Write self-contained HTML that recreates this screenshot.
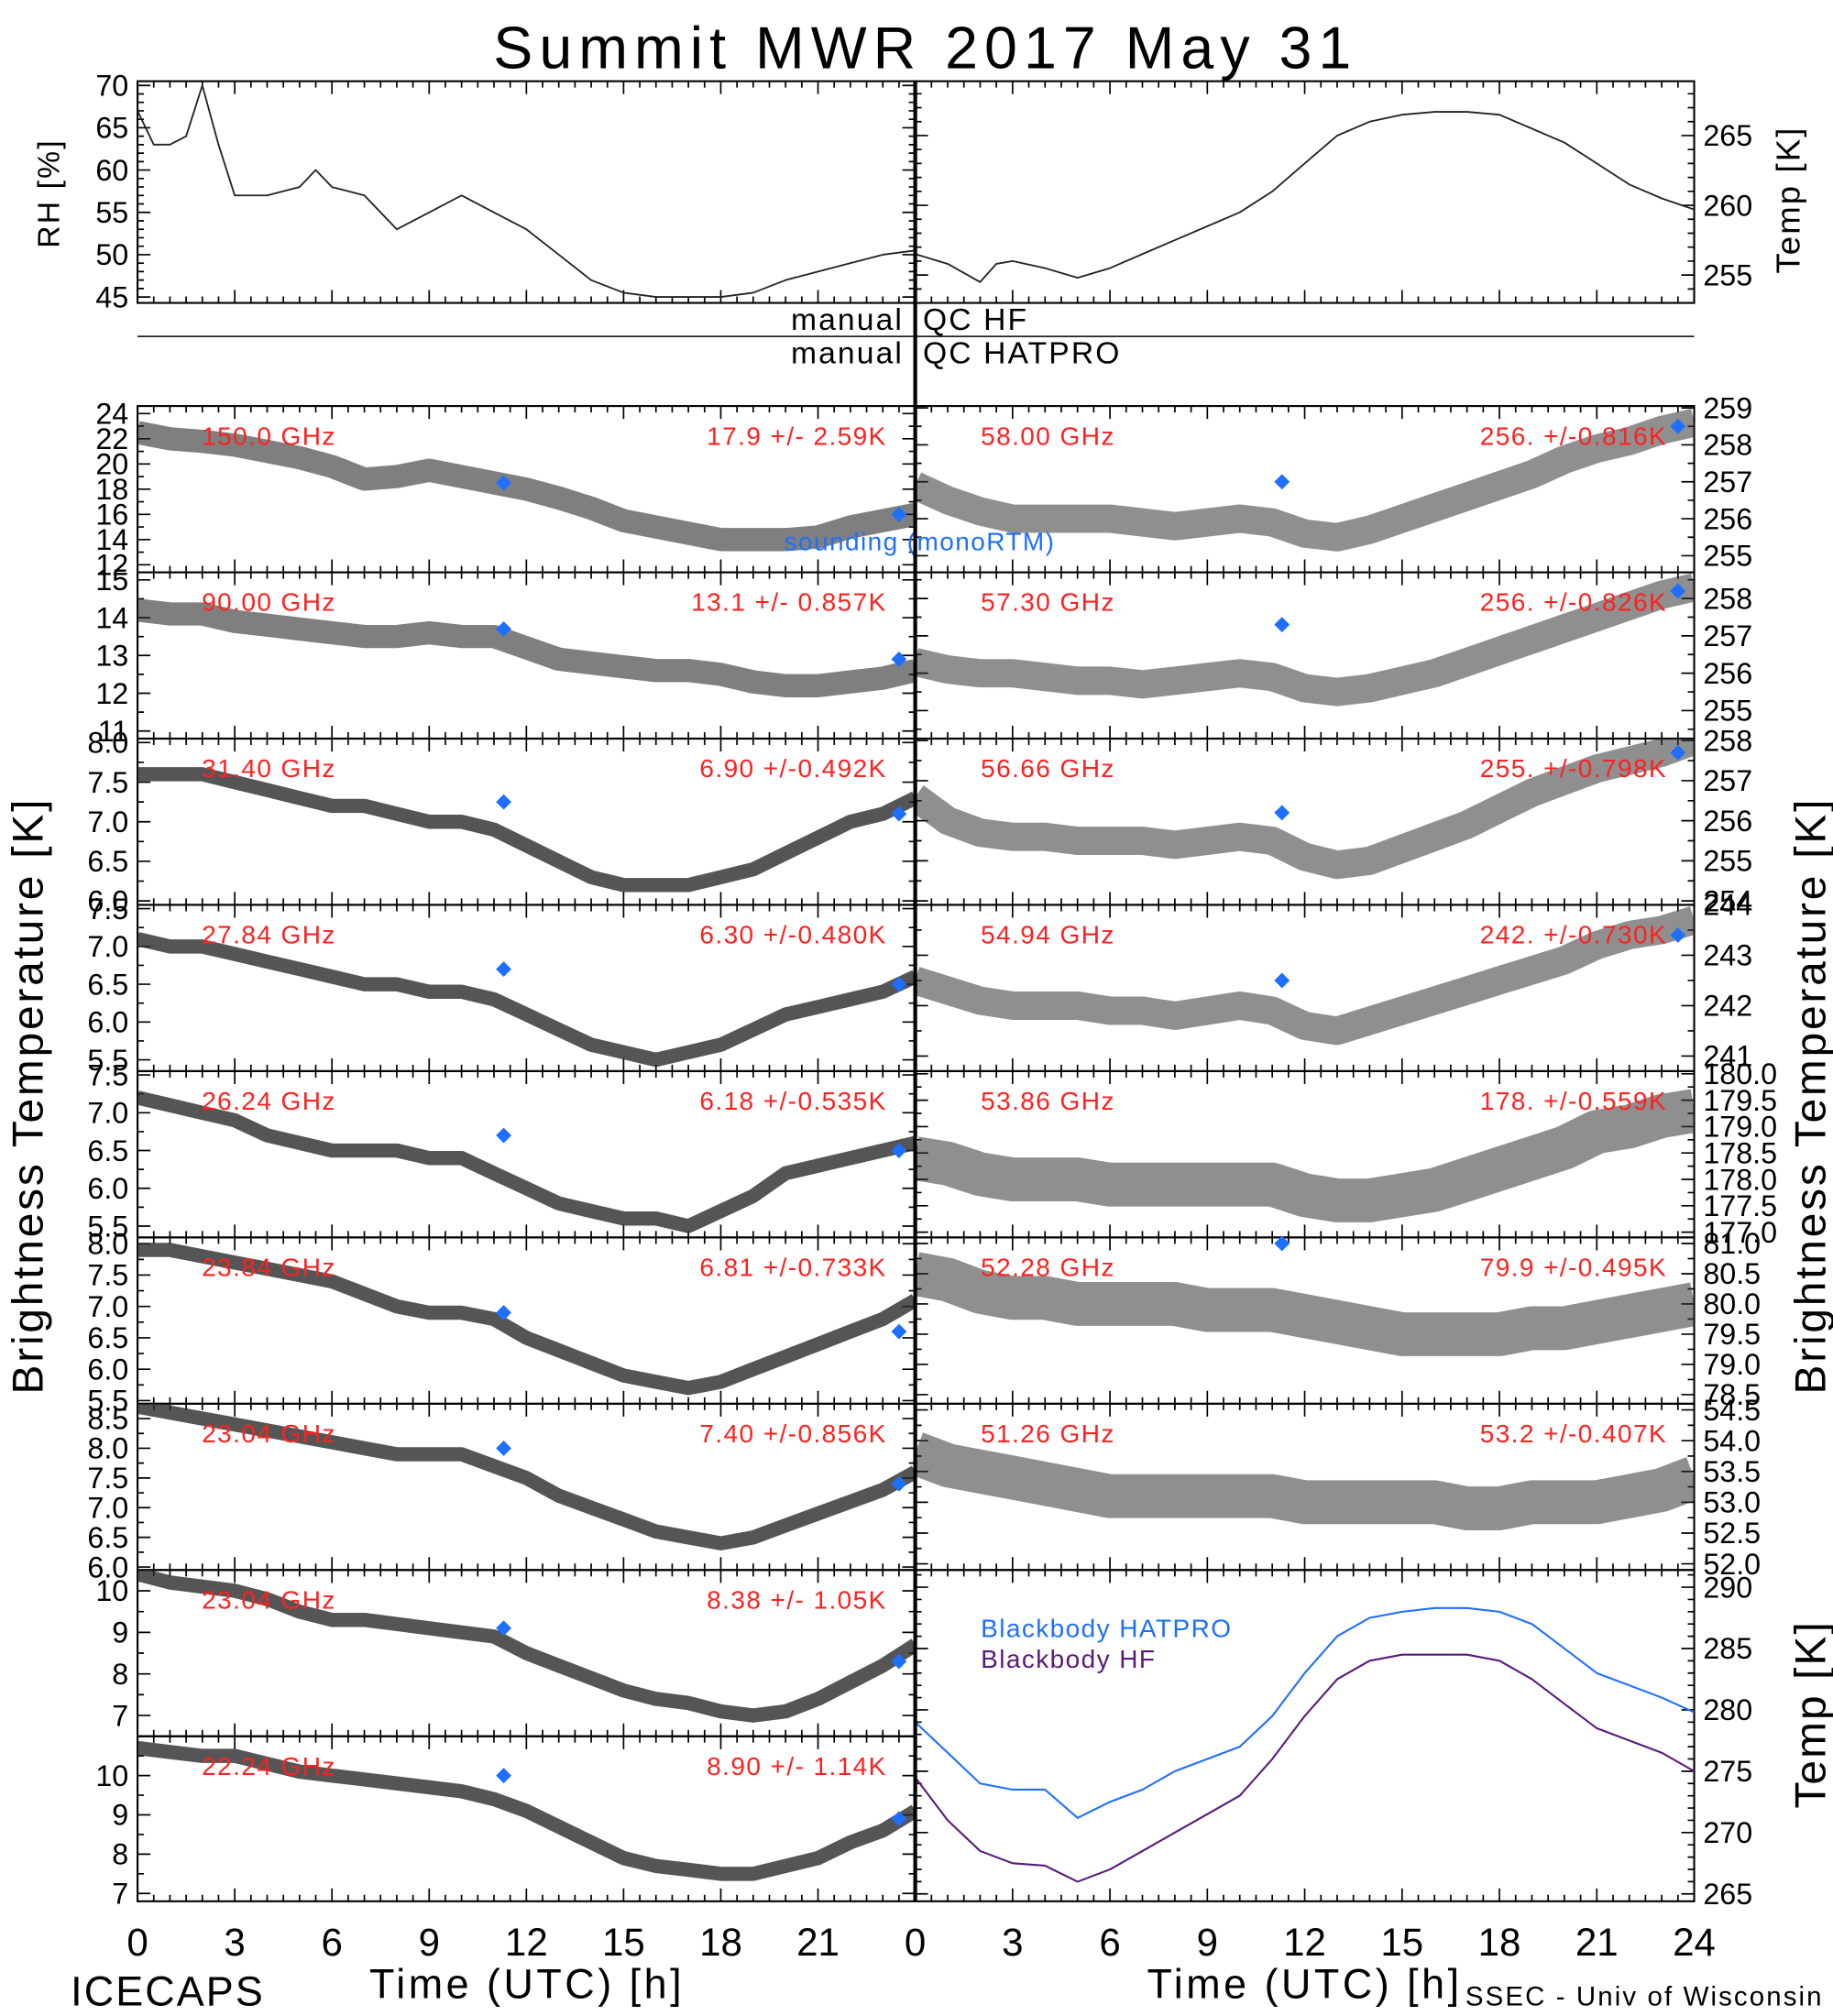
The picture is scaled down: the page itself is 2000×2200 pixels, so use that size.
<!DOCTYPE html>
<html><head><meta charset="utf-8"><style>
html,body{margin:0;padding:0;background:#fff}
svg{display:block}
text{font-family:"Liberation Sans","DejaVu Sans",sans-serif}
</style></head><body>
<svg id="c" width="2000" height="2200" viewBox="0 0 1426 1564" preserveAspectRatio="none" xmlns="http://www.w3.org/2000/svg">
<rect width="1426" height="1564" fill="#fff"/>
<defs id="defs"></defs>
<text x="720" y="53" font-size="46" text-anchor="middle" fill="#000" letter-spacing="5">Summit  MWR  2017  May  31</text>
<g id="g"></g>
</svg>
<script>
// ---------- data ----------
const hours = [0,1,2,3,4,5,6,7,8,9,10,11,12,13,14,15,16,17,18,19,20,21,22,23,24];
const rhHours = [0,0.5,1,1.5,2,2.5,3,4,5,5.5,6,7,7.5,8,9,10,11,12,13,14,15,16,17,18,19,20,21,22,23,24];
const rhValues = [67,63,63,64,70,63,57,57,58,60,58,57,55,53,55,57,55,53,50,47,45.5,45,45,45,45.5,47,48,49,50,50.5];
const tempHours = [0,1,2,2.5,3,4,5,6,7,8,9,10,11,12,13,14,15,16,17,18,19,20,21,22,23,24];
const tempValues = [256.5,255.8,254.5,255.8,256,255.5,254.8,255.5,256.5,257.5,258.5,259.5,261,263,265,266,266.5,266.7,266.7,266.5,265.5,264.5,263,261.5,260.5,259.7];

const leftFreqs = ["150.0 GHz","90.00 GHz","31.40 GHz","27.84 GHz","26.24 GHz","23.84 GHz","23.04 GHz","23.04 GHz","22.24 GHz"];
const leftStats = ["17.9 +/-  2.59K","13.1 +/- 0.857K","6.90 +/-0.492K","6.30 +/-0.480K","6.18 +/-0.535K","6.81 +/-0.733K","7.40 +/-0.856K","8.38 +/-  1.05K","8.90 +/-  1.14K"];
const leftDomains = [[11.4,24.6],[10.8,15.2],[5.95,8.05],[5.35,7.55],[5.35,7.55],[5.45,8.1],[5.95,8.75],[6.5,10.5],[6.8,11.0]];
const leftTicks = [[12,14,16,18,20,22,24],[11,12,13,14,15],[6.0,6.5,7.0,7.5,8.0],[5.5,6.0,6.5,7.0,7.5],[5.5,6.0,6.5,7.0,7.5],[5.5,6.0,6.5,7.0,7.5,8.0],[6.0,6.5,7.0,7.5,8.0,8.5],[7,8,9,10],[7,8,9,10]];
const leftSeries = [
 [22.5,22,21.8,21.5,21,20.5,19.8,18.8,19,19.5,19,18.5,18,17.3,16.5,15.5,15,14.5,14,14,14,14.2,15,15.5,16],
 [14.2,14.1,14.1,13.9,13.8,13.7,13.6,13.5,13.5,13.6,13.5,13.5,13.2,12.9,12.8,12.7,12.6,12.6,12.5,12.3,12.2,12.2,12.3,12.4,12.6],
 [7.6,7.6,7.6,7.5,7.4,7.3,7.2,7.2,7.1,7.0,7.0,6.9,6.7,6.5,6.3,6.2,6.2,6.2,6.3,6.4,6.6,6.8,7.0,7.1,7.3],
 [7.1,7.0,7.0,6.9,6.8,6.7,6.6,6.5,6.5,6.4,6.4,6.3,6.1,5.9,5.7,5.6,5.5,5.6,5.7,5.9,6.1,6.2,6.3,6.4,6.6],
 [7.2,7.1,7.0,6.9,6.7,6.6,6.5,6.5,6.5,6.4,6.4,6.2,6.0,5.8,5.7,5.6,5.6,5.5,5.7,5.9,6.2,6.3,6.4,6.5,6.6],
 [7.9,7.9,7.8,7.7,7.6,7.5,7.4,7.2,7.0,6.9,6.9,6.8,6.5,6.3,6.1,5.9,5.8,5.7,5.8,6.0,6.2,6.4,6.6,6.8,7.1],
 [8.7,8.6,8.5,8.4,8.3,8.2,8.1,8.0,7.9,7.9,7.9,7.7,7.5,7.2,7.0,6.8,6.6,6.5,6.4,6.5,6.7,6.9,7.1,7.3,7.6],
 [10.4,10.2,10.1,10.0,9.8,9.5,9.3,9.3,9.2,9.1,9.0,8.9,8.5,8.2,7.9,7.6,7.4,7.3,7.1,7.0,7.1,7.4,7.8,8.2,8.7],
 [10.7,10.6,10.5,10.5,10.3,10.1,10.0,9.9,9.8,9.7,9.6,9.4,9.1,8.7,8.3,7.9,7.7,7.6,7.5,7.5,7.7,7.9,8.3,8.6,9.1]];
const leftSonde = [[18.5,16.0],[13.7,12.9],[7.25,7.1],[6.7,6.5],[6.7,6.5],[6.9,6.6],[8.0,7.4],[9.1,8.3],[10.0,8.9]];

const rightFreqs = ["58.00 GHz","57.30 GHz","56.66 GHz","54.94 GHz","53.86 GHz","52.28 GHz","51.26 GHz"];
const rightStats = ["256. +/-0.816K","256. +/-0.826K","255. +/-0.798K","242. +/-0.730K","178. +/-0.559K","79.9 +/-0.495K","53.2 +/-0.407K"];
const rightDomains = [[254.55,259.05],[254.25,258.7],[253.9,258.05],[240.7,244.0],[176.9,180.05],[78.35,81.1],[51.9,54.6]];
const rightTicks = [[255,256,257,258,259],[255,256,257,258],[254,255,256,257,258],[241,242,243,244],[177.0,177.5,178.0,178.5,179.0,179.5,180.0],[78.5,79.0,79.5,80.0,80.5,81.0],[52.0,52.5,53.0,53.5,54.0,54.5]];
const rightSeries = [
 [256.9,256.5,256.2,256.0,256.0,256.0,256.0,255.9,255.8,255.9,256.0,255.9,255.6,255.5,255.7,256.0,256.3,256.6,256.9,257.2,257.6,257.9,258.1,258.4,258.6],
 [256.3,256.1,256.0,256.0,255.9,255.8,255.8,255.7,255.8,255.9,256.0,255.9,255.6,255.5,255.6,255.8,256.0,256.3,256.6,256.9,257.2,257.5,257.8,258.1,258.3],
 [256.6,256.0,255.7,255.6,255.6,255.5,255.5,255.5,255.4,255.5,255.6,255.5,255.1,254.9,255.0,255.3,255.6,255.9,256.3,256.7,257.0,257.3,257.5,257.7,258.0],
 [242.5,242.3,242.1,242.0,242.0,242.0,241.9,241.9,241.8,241.9,242.0,241.9,241.6,241.5,241.7,241.9,242.1,242.3,242.5,242.7,242.9,243.2,243.4,243.5,243.7],
 [178.4,178.3,178.1,178.0,178.0,178.0,177.9,177.9,177.9,177.9,177.9,177.9,177.7,177.6,177.6,177.7,177.8,178.0,178.2,178.4,178.6,178.9,179.0,179.2,179.3],
 [80.5,80.4,80.2,80.1,80.1,80.0,80.0,80.0,80.0,79.9,79.9,79.9,79.8,79.7,79.6,79.5,79.5,79.5,79.5,79.6,79.6,79.7,79.8,79.9,80.0],
 [53.8,53.6,53.5,53.4,53.3,53.2,53.1,53.1,53.1,53.1,53.1,53.1,53.0,53.0,53.0,53.0,53.0,52.9,52.9,53.0,53.0,53.0,53.1,53.2,53.4]];
const rightSonde = [[257.0,258.5],[257.3,258.2],[256.2,257.7],[242.5,243.4],[null,null],[81.0,null],[null,null]];
const sondeHours = [11.3,23.5];

const bbHatpro = [279,276.5,274,273.5,273.5,271.2,272.5,273.5,275,276,277,279.5,283,286,287.5,288,288.3,288.3,288,287,285,283,282,281,279.8];
const bbHF = [274.5,271,268.5,267.5,267.3,266,267,268.5,270,271.5,273,276,279.5,282.5,284,284.5,284.5,284.5,284,282.5,280.5,278.5,277.5,276.5,275];
const bbTicks = [265,270,275,280,285,290];
const xTickLabelsL = [0,3,6,9,12,15,18,21];
const xTickLabelsR = [0,3,6,9,12,15,18,21,24];

// ---------- drawing ----------
const NS="http://www.w3.org/2000/svg";
const G=document.getElementById('g');
const DEFS=document.getElementById('defs');
function el(tag,attrs,parent){const e=document.createElementNS(NS,tag);for(const k in attrs)e.setAttribute(k,attrs[k]);(parent||G).appendChild(e);return e;}
function txt(s,attrs){const e=el('text',attrs);e.textContent=s;return e;}
const LX0=107,LX1=712,RX0=712,RX1=1318;
const xs=(x0,x1)=>h=>x0+(x1-x0)*h/24;
const ys=(d,top,bot)=>v=>bot-(v-d[0])/(d[1]-d[0])*(bot-top);
let clipN=0;
function clip(x0,x1,top,bot){const id='cp'+(clipN++);const c=el('clipPath',{id:id},DEFS);el('rect',{x:x0,y:top,width:x1-x0,height:bot-top},c);return 'url(#'+id+')';}

function frame(x0,x1,top,bot,yticks,ysc,name,minorStep){
  const f=el('rect',{x:x0,y:top,width:x1-x0,height:bot-top,fill:'none',stroke:'#000','stroke-width':1.5});
  
  
  const xf=xs(x0,x1);
  let d='';
  for(let h=0;h<=24;h+=0.5){const x=xf(h);const L=(h%3===0)?10:5;d+=`M${x},${bot}v${-L}M${x},${top}v${L}`;}
  if(yticks){
    const st=minorStep||((yticks[1]-yticks[0])/2);
    for(let v=yticks[0]-st*4;v<=yticks[yticks.length-1]+st*4+1e-9;v+=st){const y=ysc(v);if(y<top||y>bot)continue;
      const maj=yticks.some(t=>Math.abs(t-v)<1e-6);const L=maj?10:5;d+=`M${x0},${y}h${L}M${x1},${y}h${-L}`;}
  }
  const p=el('path',{d:d,stroke:'#000','stroke-width':1.2,fill:'none'});
  
  
}
function ylabels(ticks,ysc,x,anchor,name,fmt){
  ticks.forEach(v=>{const t=txt(fmt?v.toFixed(1):String(v),{x:x,y:ysc(v)+8,'font-size':23,'text-anchor':anchor,fill:'#000'});
    
    });
}
function trace(vals,hrs,xf,ysc,w,color,name,op,cp){
  const d=vals.map((v,i)=>(i?'L':'M')+xf(hrs[i]).toFixed(1)+','+ysc(v).toFixed(1)).join('');
  const p=el('path',{d:d,stroke:color,'stroke-width':w,fill:'none','stroke-linejoin':'round','stroke-linecap':'butt',opacity:op||1});
  if(cp)p.setAttribute('clip-path',cp);
  
  
}
function diamond(x,y,name){
  const p=el('path',{d:`M${x},${y-6}L${x+6},${y}L${x},${y+6}L${x-6},${y}Z`,fill:'#1e6fff'});
  
  
}
const isFrac=t=>t.some(v=>v%1!==0);

// top panels
{const top=63,bot=235;
 const ysL=ys([44.3,70.5],top,bot), ysR=ys([253.0,268.9],top,bot);
 frame(LX0,LX1,top,bot,[45,50,55,60,65,70],ysL,'rh-panel',1);
 frame(RX0,RX1,top,bot,[255,260,265],ysR,'temp-panel',1);
 ylabels([45,50,55,60,65,70],ysL,100,'end','rh');
 ylabels([255,260,265],ysR,1325,'start','temp');
 trace(rhValues,rhHours,xs(LX0,LX1),ysL,1.3,'#222','rh-line');
 trace(tempValues,tempHours,xs(RX0,RX1),ysR,1.3,'#222','temp-line');
}
// QC area
{const l=el('line',{x1:107,y1:261,x2:1318,y2:261,stroke:'#000','stroke-width':1});
 
 const a=[['manual',703,256,'end'],['QC  HF',718,256,'start'],['manual',703,282,'end'],['QC  HATPRO',718,282,'start']];
 a.forEach(r=>{const t=txt(r[0],{x:r[1],y:r[2],'font-size':24,'text-anchor':r[3],fill:'#000','letter-spacing':1.5});
   });
}
const rowTops=[315,444,573,702,831,960,1089,1218,1347,1475];
// left panels
leftSeries.forEach((s,i)=>{
  const top=rowTops[i],bot=rowTops[i+1];const ysc=ys(leftDomains[i],top,bot);const xf=xs(LX0,LX1);
  frame(LX0,LX1,top,bot,leftTicks[i],ysc,'left-panel-'+i);
  ylabels(leftTicks[i],ysc,100,'end','left-'+i,isFrac(leftTicks[i]));
  trace(s,hours,xf,ysc,i<2?18:11,'#2a2a2a','bt-trace-left-'+i,i<2?0.6:0.8,clip(LX0,LX1,top,bot));
  leftSonde[i].forEach((v,k)=>{if(v!=null)diamond(xf(sondeHours[k]),ysc(v),'sonde-marker');});
  let t=txt(leftFreqs[i],{x:157,y:top+30,'font-size':20,fill:'#ff2020','letter-spacing':1});
  t=txt(leftStats[i],{x:690,y:top+30,'font-size':20,fill:'#ff2020','text-anchor':'end','letter-spacing':1});
});
// right panels
rightSeries.forEach((s,i)=>{
  const top=rowTops[i],bot=rowTops[i+1];const ysc=ys(rightDomains[i],top,bot);const xf=xs(RX0,RX1);
  frame(RX0,RX1,top,bot,rightTicks[i],ysc,'right-panel-'+i);
  ylabels(rightTicks[i],ysc,1325,'start','right-'+i,isFrac(rightTicks[i]));
  trace(s,hours,xf,ysc,i>=4?34:22,'#333','bt-trace-right-'+i,0.55,clip(RX0,RX1,top,bot));
  rightSonde[i].forEach((v,k)=>{if(v!=null)diamond(xf(sondeHours[k]),ysc(v),'sonde-marker');});
  let t=txt(rightFreqs[i],{x:763,y:top+30,'font-size':20,fill:'#ff2020','letter-spacing':1});
  t=txt(rightStats[i],{x:1297,y:top+30,'font-size':20,fill:'#ff2020','text-anchor':'end','letter-spacing':1});
});
{const t=txt('sounding (monoRTM)',{x:610,y:427,'font-size':20,fill:'#1e6fff','letter-spacing':1});}
// blackbody panel
{const top=1218,bot=1475;const ysc=ys([264.4,291.4],top,bot);const xf=xs(RX0,RX1);
 frame(RX0,RX1,top,bot,bbTicks,ysc,'blackbody-panel',1);
 ylabels(bbTicks,ysc,1325,'start','blackbody');
 trace(bbHatpro,hours,xf,ysc,1.5,'#1e6fff','blackbody-hatpro-line');
 trace(bbHF,hours,xf,ysc,1.5,'#5a1a7a','blackbody-hf-line');
 let t=txt('Blackbody  HATPRO',{x:763,y:1270,'font-size':20,fill:'#1e6fff','letter-spacing':1});
 t=txt('Blackbody  HF',{x:763,y:1294,'font-size':20,fill:'#5a1a7a','letter-spacing':1});
}
// divider
{const l=el('line',{x1:712,y1:63,x2:712,y2:1475,stroke:'#000','stroke-width':3});}
// x labels
xTickLabelsL.forEach(h=>{const t=txt(String(h),{x:xs(LX0,LX1)(h),y:1517,'font-size':30,'text-anchor':'middle',fill:'#000'});});
xTickLabelsR.forEach(h=>{const t=txt(String(h),{x:xs(RX0,RX1)(h),y:1517,'font-size':30,'text-anchor':'middle',fill:'#000'});});
// titles
function lab(s,x,y,size,rot,name,anchor,ls){const t=txt(s,{x:x,y:y,'font-size':size,'text-anchor':anchor||'middle',fill:'#000','letter-spacing':ls||1.5,transform:rot?`rotate(-90 ${x} ${y})`:''});
  }
lab('RH [%]',46,150,24,true,'rh-axis-title');
lab('Temp [K]',1400,155,26,true,'temp-axis-title');
lab('Brightness Temperature [K]',33,850,34,true,'bt-axis-title-left',null,2);
lab('Brightness Temperature [K]',1420,850,34,true,'bt-axis-title-right',null,2);
lab('Temp [K]',1420,1330,34,true,'blackbody-axis-title');
lab('Time (UTC) [h]',410,1550,32,false,'x-axis-title-left',null,2.5);
lab('Time (UTC) [h]',1015,1550,32,false,'x-axis-title-right',null,2.5);
lab('ICECAPS',55,1556,32,false,'icecaps-label','start');
lab('SSEC - Univ of Wisconsin',1140,1556,21,false,'ssec-label','start');
</script>
</body></html>
